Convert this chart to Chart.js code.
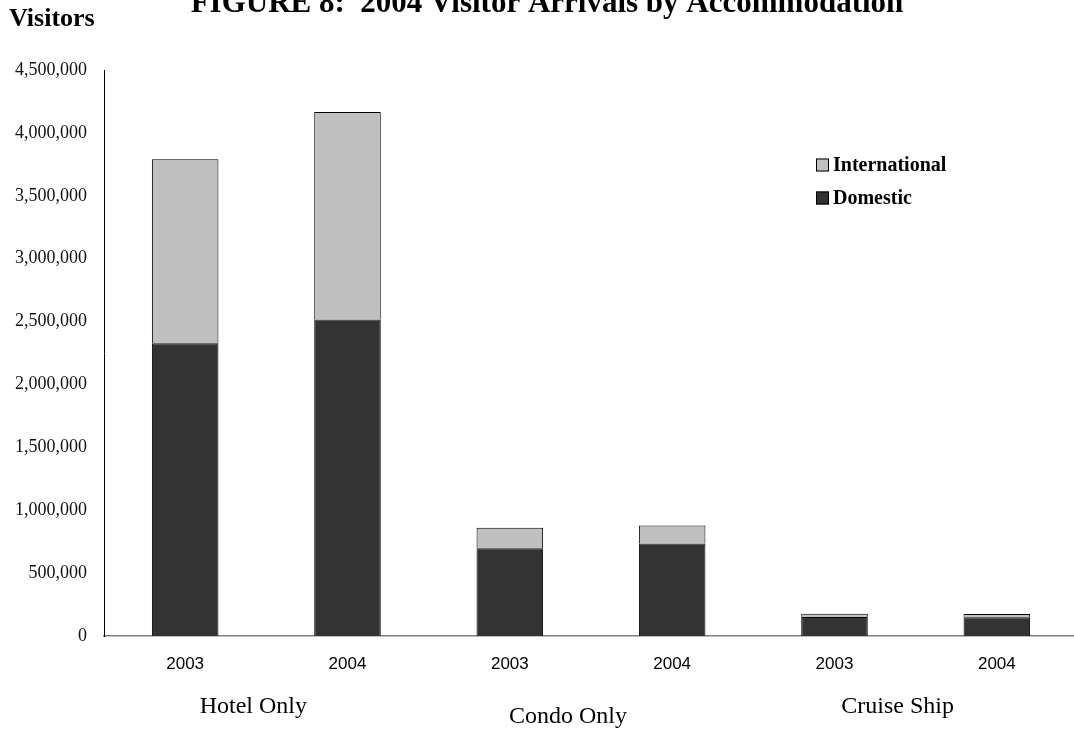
<!DOCTYPE html>
<html>
<head>
<meta charset="utf-8">
<script src="https://cdn.jsdelivr.net/npm/chart.js@4/dist/chart.umd.min.js"></script>
<style>
    html, body { margin: 0; padding: 0; background: #fff; overflow: hidden; }
    #wrap { width: 1080px; height: 731px; }
</style>
</head>
<body>
<div id="wrap"><canvas id="chart" width="1080" height="731"></canvas></div>
<script>
// data
const years = ['2003', '2004', '2003', '2004', '2003', '2004'];
const groups = ['Hotel Only', 'Condo Only', 'Cruise Ship'];
const domestic = [2328000, 2516000, 698000, 736000, 152000, 150000];
const international = [1462000, 1651000, 162000, 142000, 25000, 24000];
const yTicks = [0, 500000, 1000000, 1500000, 2000000, 2500000, 3000000, 3500000, 4000000, 4500000];

const titleText = 'FIGURE 8:  2004 Visitor Arrivals by Accommodation';
const yTitleText = 'Visitors';

const serif = '"Liberation Serif", "Times New Roman", serif';
const sans = '"Liberation Sans", Arial, sans-serif';

// group label nudges (the original ones sit a little left, Condo a bit lower)
const groupNudge = [{ dx: -13, dy: 0 }, { dx: -23, dy: 10 }, { dx: -18, dy: 0 }];

const extrasPlugin = {
    id: 'extras',
    afterDraw(chart) {
        const ctx = chart.ctx;
        const xScale = chart.scales.x;
        ctx.save();
        ctx.fillStyle = '#000';

        // title (partly cut off at the top in the original)
        ctx.font = 'bold 31px ' + serif;
        ctx.textAlign = 'center';
        ctx.textBaseline = 'alphabetic';
        ctx.fillText(titleText, 547, 12);

        // y axis title
        ctx.font = 'bold 26px ' + serif;
        ctx.textAlign = 'left';
        ctx.fillText(yTitleText, 9, 26);

        // group labels under each pair of years
        ctx.font = '24px ' + serif;
        ctx.textAlign = 'center';
        ctx.textBaseline = 'middle';
        groups.forEach((g, i) => {
            const x0 = xScale.getPixelForValue(i * 2);
            const x1 = xScale.getPixelForValue(i * 2 + 1);
            const n = groupNudge[i];
            ctx.fillText(g, (x0 + x1) / 2 + n.dx, 707 + n.dy);
        });

        // legend, top item is the top of the stack
        const items = chart.data.datasets.slice().reverse();
        ctx.font = 'bold 20px ' + serif;
        ctx.textAlign = 'left';
        items.forEach((ds, i) => {
            const cy = 165 + i * 33;
            ctx.fillStyle = ds.backgroundColor;
            ctx.fillRect(816, cy - 6.5, 13, 13);
            ctx.strokeStyle = '#000';
            ctx.lineWidth = 1;
            ctx.strokeRect(816.5, cy - 6, 12, 12);
            ctx.fillStyle = '#000';
            ctx.fillText(ds.label, 833, cy + 1);
        });
        ctx.restore();
    }
};

new Chart(document.getElementById('chart'), {
    type: 'bar',
    data: {
        labels: years,
        datasets: [
            {
                label: 'Domestic',
                data: domestic,
                backgroundColor: '#333333',
                borderColor: '#000',
                borderWidth: 1,
                barPercentage: 0.41,
                categoryPercentage: 1.0
            },
            {
                label: 'International',
                data: international,
                backgroundColor: '#c0c0c0',
                borderColor: '#000',
                borderWidth: 1,
                barPercentage: 0.41,
                categoryPercentage: 1.0
            }
        ]
    },
    options: {
        responsive: false,
        animation: false,
        devicePixelRatio: 1,
        layout: { padding: { top: 70, right: 2, left: 0, bottom: 0 } },
        plugins: {
            legend: { display: false },
            tooltip: { enabled: false }
        },
        scales: {
            x: {
                stacked: true,
                grid: { display: false, drawTicks: false },
                border: { display: true, color: '#808080', width: 1.5 },
                ticks: {
                    color: '#000',
                    font: { family: sans, size: 17 },
                    padding: 18,
                    maxRotation: 0
                },
                afterFit(scale) { scale.height = 95; }
            },
            y: {
                stacked: true,
                min: 0,
                max: 4500000,
                afterBuildTicks(scale) { scale.ticks = yTicks.map(v => ({ value: v })); },
                grid: { display: false, drawTicks: false },
                border: { display: true, color: '#000', width: 1 },
                ticks: {
                    color: '#111',
                    font: { family: serif, size: 18 },
                    padding: 17,
                    callback: v => v.toLocaleString('en-US')
                },
                afterFit(scale) { scale.width = 104; }
            }
        }
    },
    plugins: [extrasPlugin]
});
</script>
</body>
</html>
